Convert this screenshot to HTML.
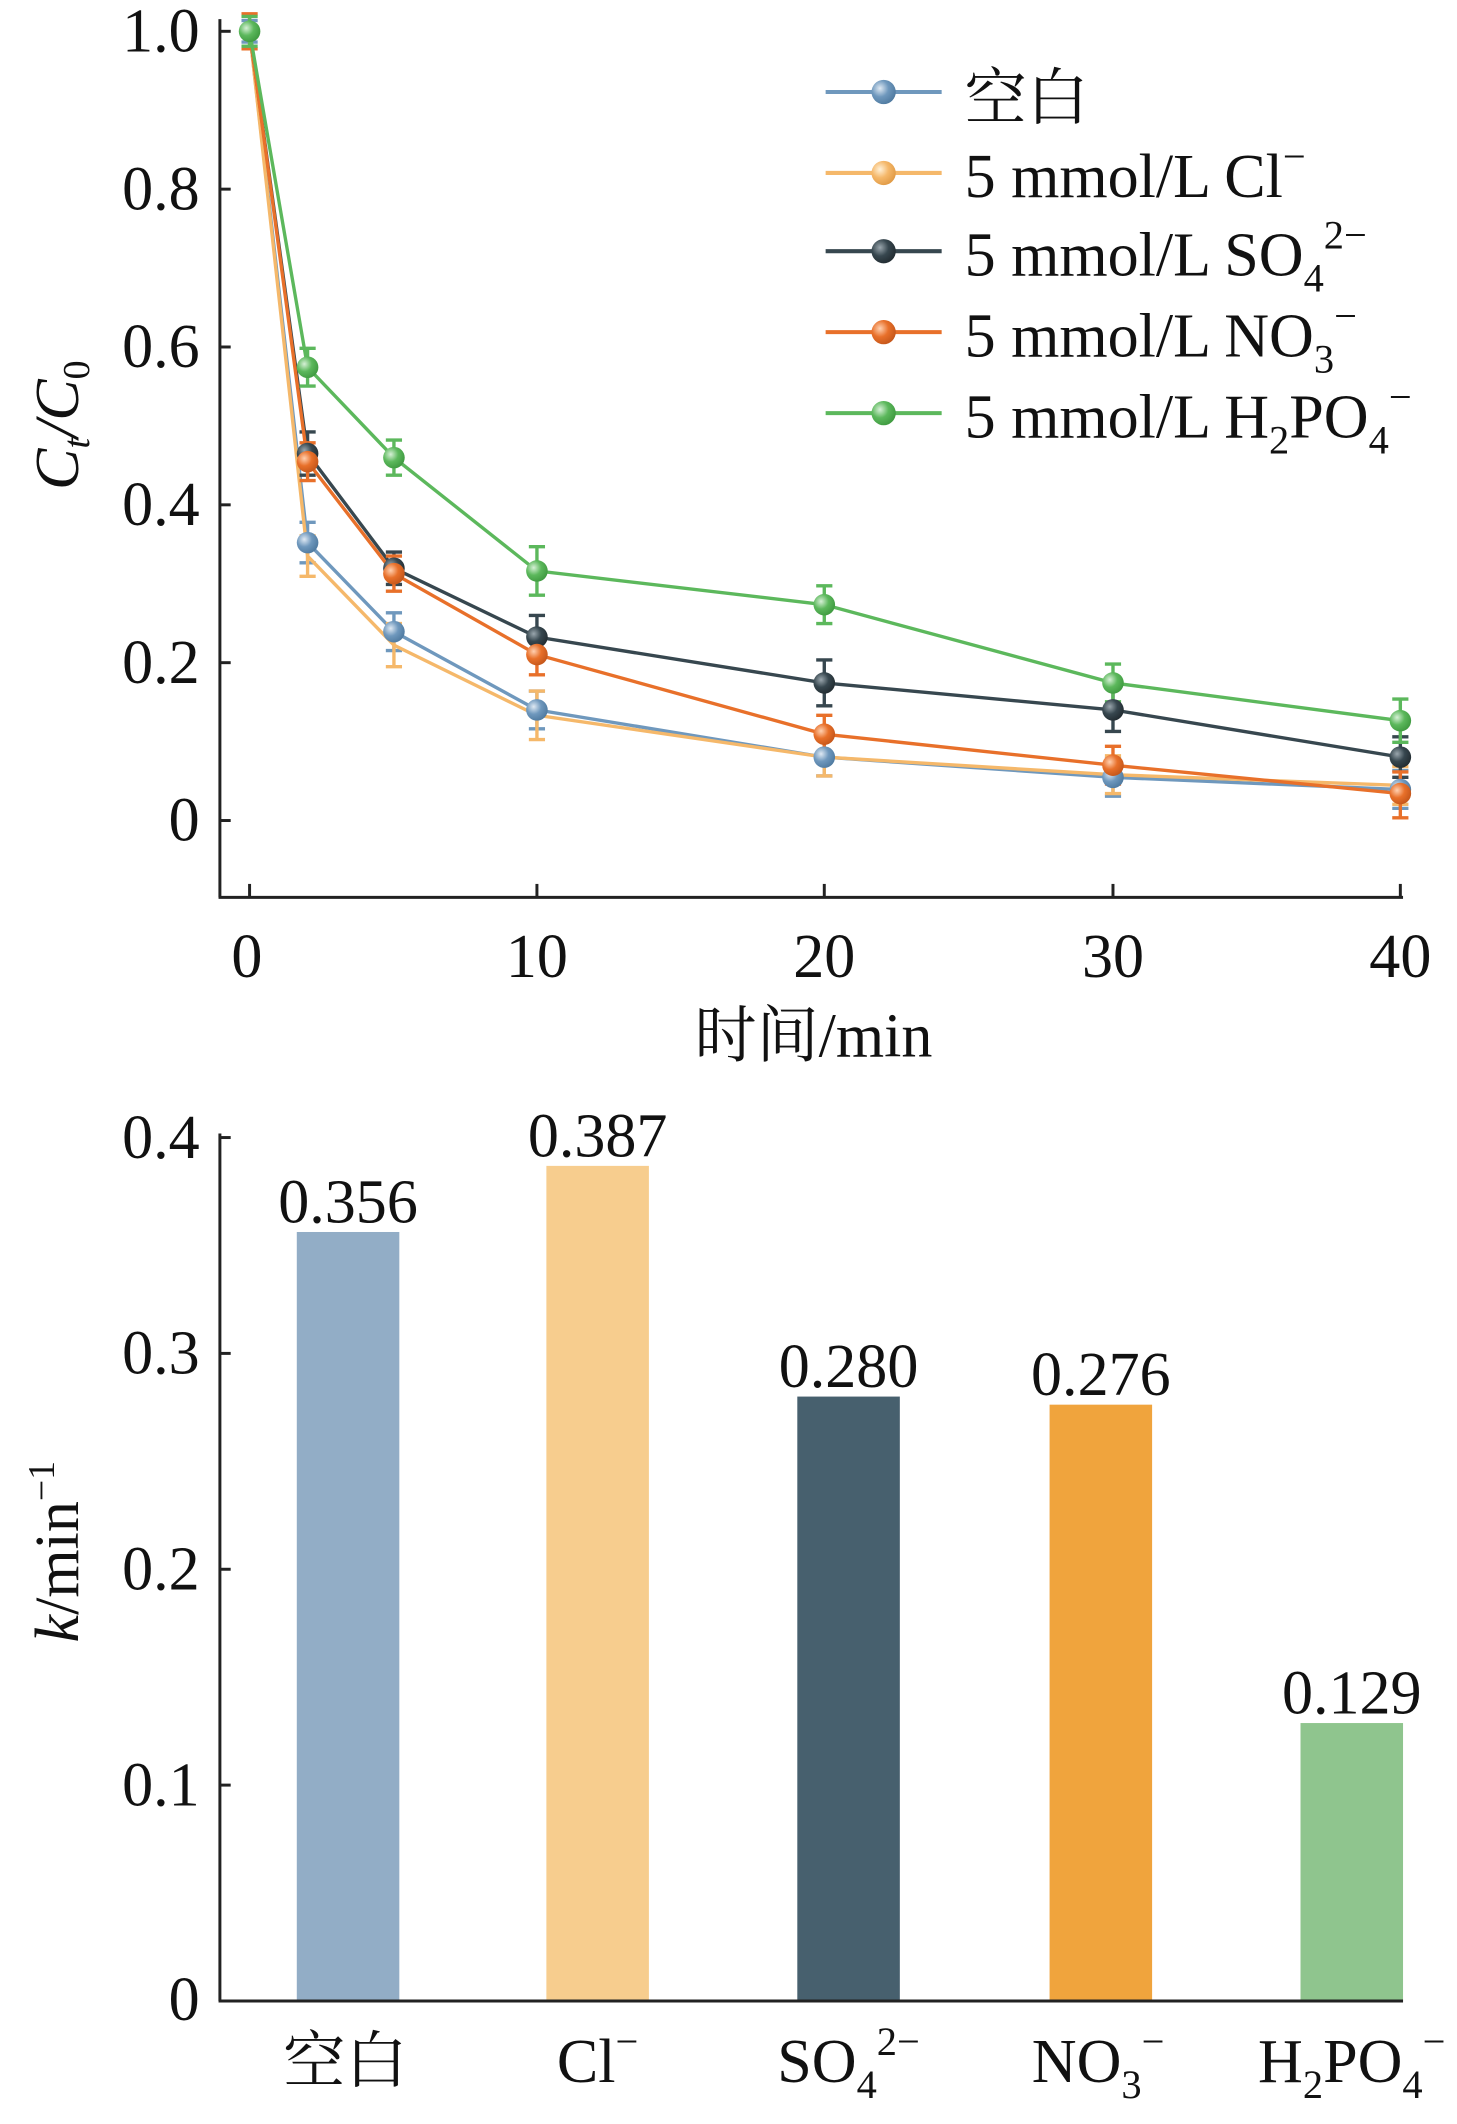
<!DOCTYPE html>
<html><head><meta charset="utf-8"><style>
html,body{margin:0;padding:0;background:#fff}
svg{display:block}
text{font-family:"Liberation Serif","Noto Serif CJK SC",serif;fill:#111}
</style></head><body>
<svg width="1457" height="2124" viewBox="0 0 1080 1574" xmlns="http://www.w3.org/2000/svg">
<defs>
<radialGradient id="gb" cx="0.35" cy="0.35" r="0.7"><stop offset="0" stop-color="#dfe9f3"/><stop offset="0.5" stop-color="#6f98bd"/><stop offset="1" stop-color="#4f7aa0"/></radialGradient>
<radialGradient id="gy" cx="0.35" cy="0.35" r="0.7"><stop offset="0" stop-color="#fff1d8"/><stop offset="0.5" stop-color="#f5b86a"/><stop offset="1" stop-color="#e09a45"/></radialGradient>
<radialGradient id="gd" cx="0.35" cy="0.35" r="0.7"><stop offset="0" stop-color="#9aa6ad"/><stop offset="0.5" stop-color="#37474f"/><stop offset="1" stop-color="#222c31"/></radialGradient>
<radialGradient id="go" cx="0.35" cy="0.35" r="0.7"><stop offset="0" stop-color="#ffd0b0"/><stop offset="0.5" stop-color="#e8702a"/><stop offset="1" stop-color="#c4561a"/></radialGradient>
<radialGradient id="gg" cx="0.35" cy="0.35" r="0.7"><stop offset="0" stop-color="#d6f0d6"/><stop offset="0.5" stop-color="#5cb85c"/><stop offset="1" stop-color="#3f9a40"/></radialGradient>
</defs>

<g stroke="#222" stroke-width="2.2" fill="none">
<line x1="163" y1="14" x2="163" y2="665"/>
<line x1="162" y1="665" x2="1040" y2="665"/>
<line x1="163" y1="23" x2="171" y2="23"/>
<line x1="163" y1="140" x2="171" y2="140"/>
<line x1="163" y1="257" x2="171" y2="257"/>
<line x1="163" y1="374" x2="171" y2="374"/>
<line x1="163" y1="491" x2="171" y2="491"/>
<line x1="163" y1="608" x2="171" y2="608"/>
<line x1="185" y1="665" x2="185" y2="655"/>
<line x1="398" y1="665" x2="398" y2="655"/>
<line x1="611" y1="665" x2="611" y2="655"/>
<line x1="825" y1="665" x2="825" y2="655"/>
<line x1="1038" y1="665" x2="1038" y2="655"/>
</g>
<g font-size="46" text-anchor="end">
<text x="148" y="38">1.0</text>
<text x="148" y="155">0.8</text>
<text x="148" y="272">0.6</text>
<text x="148" y="389">0.4</text>
<text x="148" y="506">0.2</text>
<text x="148" y="623">0</text>
</g>
<g font-size="46" text-anchor="middle">
<text x="183" y="724">0</text>
<text x="398" y="724">10</text>
<text x="611" y="724">20</text>
<text x="825" y="724">30</text>
<text x="1038" y="724">40</text>
<text x="603" y="783">时间/min</text>
</g>
<text transform="translate(58,315) rotate(-90)" font-size="46" text-anchor="middle" font-style="italic">C<tspan font-size="28" dy="8">t</tspan><tspan dy="-8">/C</tspan><tspan font-size="28" dy="8" font-style="normal">0</tspan></text>

<g stroke="#6f98bd" stroke-width="2.5" fill="none">
<polyline points="185,23 228,402 292,468 398,526 611,561 825,576 1038,585"/>
<path d="M185,15v16M179,15h12M179,31h12 M228,387v30M222,387h12M222,417h12 M292,454v28M286,454h12M286,482h12 M398,512v28M392,512h12M392,540h12 M611,547v28M605,547h12M605,575h12 M825,562v28M819,562h12M819,590h12 M1038,571v28M1032,571h12M1032,599h12"/>
</g>
<g stroke="#f5b86a" stroke-width="2.5" fill="none">
<polyline points="185,23 228,412 292,478 398,530 611,561 825,574 1038,582"/>
<path d="M228,397v30M222,397h12M222,427h12 M292,462v32M286,462h12M286,494h12 M398,512v36M392,512h12M392,548h12 M611,547v28M605,547h12M605,575h12 M825,560v28M819,560h12M819,588h12 M1038,568v28M1032,568h12M1032,596h12"/>
</g>
<g stroke="#37474f" stroke-width="2.5" fill="none">
<polyline points="185,23 228,336 292,421 398,472 611,506 825,526 1038,561"/>
<path d="M228,320v32M222,320h12M222,352h12 M292,409v24M286,409h12M286,433h12 M398,456v32M392,456h12M392,488h12 M611,489v34M605,489h12M605,523h12 M825,510v32M819,510h12M819,542h12 M1038,546v30M1032,546h12M1032,576h12"/>
</g>
<g stroke="#e8702a" stroke-width="2.5" fill="none">
<polyline points="185,23 228,342 292,425 398,485 611,544 825,567 1038,588"/>
<path d="M185,10v26M179,10h12M179,36h12 M228,328v28M222,328h12M222,356h12 M292,412v26M286,412h12M286,438h12 M398,470v30M392,470h12M392,500h12 M611,530v28M605,530h12M605,558h12 M825,553v28M819,553h12M819,581h12 M1038,572v34M1032,572h12M1032,606h12"/>
</g>
<g stroke="#5cb85c" stroke-width="2.5" fill="none">
<polyline points="185,23 228,272 292,339 398,423 611,448 825,506 1038,534"/>
<path d="M185,12v22M179,12h12M179,34h12 M228,258v28M222,258h12M222,286h12 M292,326v26M286,326h12M286,352h12 M398,405v36M392,405h12M392,441h12 M611,434v28M605,434h12M605,462h12 M825,492v28M819,492h12M819,520h12 M1038,518v32M1032,518h12M1032,550h12"/>
</g>
<g>
<circle cx="185" cy="23" r="8" fill="url(#gg)"/>
<circle cx="228" cy="402" r="8" fill="url(#gb)"/><circle cx="292" cy="468" r="8" fill="url(#gb)"/><circle cx="398" cy="526" r="8" fill="url(#gb)"/><circle cx="611" cy="561" r="8" fill="url(#gb)"/><circle cx="825" cy="576" r="8" fill="url(#gb)"/><circle cx="1038" cy="585" r="8" fill="url(#gb)"/>
<circle cx="228" cy="336" r="8" fill="url(#gd)"/><circle cx="292" cy="421" r="8" fill="url(#gd)"/><circle cx="398" cy="472" r="8" fill="url(#gd)"/><circle cx="611" cy="506" r="8" fill="url(#gd)"/><circle cx="825" cy="526" r="8" fill="url(#gd)"/><circle cx="1038" cy="561" r="8" fill="url(#gd)"/>
<circle cx="228" cy="342" r="8" fill="url(#go)"/><circle cx="292" cy="425" r="8" fill="url(#go)"/><circle cx="398" cy="485" r="8" fill="url(#go)"/><circle cx="611" cy="544" r="8" fill="url(#go)"/><circle cx="825" cy="567" r="8" fill="url(#go)"/><circle cx="1038" cy="588" r="8" fill="url(#go)"/>
<circle cx="228" cy="272" r="8" fill="url(#gg)"/><circle cx="292" cy="339" r="8" fill="url(#gg)"/><circle cx="398" cy="423" r="8" fill="url(#gg)"/><circle cx="611" cy="448" r="8" fill="url(#gg)"/><circle cx="825" cy="506" r="8" fill="url(#gg)"/><circle cx="1038" cy="534" r="8" fill="url(#gg)"/>
</g>

<g stroke-width="3">
<line x1="612" y1="68" x2="698" y2="68" stroke="#6f98bd"/>
<line x1="612" y1="128" x2="698" y2="128" stroke="#f5b86a"/>
<line x1="612" y1="186" x2="698" y2="186" stroke="#37474f"/>
<line x1="612" y1="246" x2="698" y2="246" stroke="#e8702a"/>
<line x1="612" y1="306" x2="698" y2="306" stroke="#5cb85c"/>
</g>
<circle cx="655" cy="68" r="9" fill="url(#gb)"/>
<circle cx="655" cy="128" r="9" fill="url(#gy)"/>
<circle cx="655" cy="186" r="9" fill="url(#gd)"/>
<circle cx="655" cy="246" r="9" fill="url(#go)"/>
<circle cx="655" cy="306" r="9" fill="url(#gg)"/>
<g font-size="46">
<text x="715" y="88">空白</text>
<text x="715" y="146">5 mmol/L Cl<tspan font-size="30" dy="-20">−</tspan></text>
<text x="715" y="204">5 mmol/L SO<tspan font-size="30" dy="12">4</tspan><tspan font-size="30" dy="-32">2−</tspan></text>
<text x="715" y="264">5 mmol/L NO<tspan font-size="30" dy="12">3</tspan><tspan font-size="30" dy="-32">−</tspan></text>
<text x="715" y="324">5 mmol/L H<tspan font-size="30" dy="12">2</tspan><tspan dy="-12">PO</tspan><tspan font-size="30" dy="12">4</tspan><tspan font-size="30" dy="-32">−</tspan></text>
</g>

<g>
<rect x="220" y="913" width="76" height="570" fill="#92adc6"/>
<rect x="405" y="864" width="76" height="619" fill="#f7cd8e"/>
<rect x="591" y="1035" width="76" height="448" fill="#47606e"/>
<rect x="778" y="1041" width="76" height="442" fill="#f0a43d"/>
<rect x="964" y="1277" width="76" height="206" fill="#8fc58e"/>
</g>
<g stroke="#222" stroke-width="2.2" fill="none">
<line x1="163" y1="840" x2="163" y2="1483"/>
<line x1="162" y1="1483" x2="1040" y2="1483"/>
<line x1="163" y1="843" x2="171" y2="843"/>
<line x1="163" y1="1003" x2="171" y2="1003"/>
<line x1="163" y1="1163" x2="171" y2="1163"/>
<line x1="163" y1="1323" x2="171" y2="1323"/>
</g>
<g font-size="46" text-anchor="end">
<text x="148" y="858">0.4</text>
<text x="148" y="1018">0.3</text>
<text x="148" y="1178">0.2</text>
<text x="148" y="1338">0.1</text>
<text x="148" y="1497">0</text>
</g>
<g font-size="46" text-anchor="middle">
<text x="258" y="906">0.356</text>
<text x="443" y="857">0.387</text>
<text x="629" y="1028">0.280</text>
<text x="816" y="1034">0.276</text>
<text x="1002" y="1270">0.129</text>
</g>
<g font-size="46" text-anchor="middle">
<text x="256" y="1543">空白</text>
<text x="443" y="1543">Cl<tspan font-size="30" dy="-20">−</tspan></text>
<text x="629" y="1543">SO<tspan font-size="30" dy="12">4</tspan><tspan font-size="30" dy="-32">2−</tspan></text>
<text x="814" y="1543">NO<tspan font-size="30" dy="12">3</tspan><tspan font-size="30" dy="-32">−</tspan></text>
<text x="1002" y="1543">H<tspan font-size="30" dy="12">2</tspan><tspan dy="-12">PO</tspan><tspan font-size="30" dy="12">4</tspan><tspan font-size="30" dy="-32">−</tspan></text>
</g>
<text transform="translate(58,1150) rotate(-90)" font-size="46" text-anchor="middle"><tspan font-style="italic">k</tspan>/min<tspan font-size="28" dy="-18">−1</tspan></text>
</svg>
</body></html>
